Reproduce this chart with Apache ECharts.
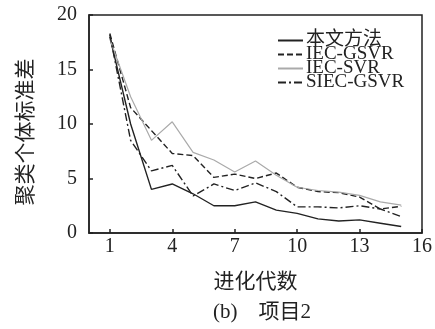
<!DOCTYPE html>
<html><head><meta charset="utf-8">
<script src="https://cdn.jsdelivr.net/npm/echarts@6/dist/echarts.min.js"></script>
<style>html,body{margin:0;padding:0;background:#fff}#c{width:435px;height:329px}</style>
</head><body><div id="c"></div>
<script>
const xCats = ['0','1','2','3','4','5','6','7','8','9','10','11','12','13','14','15','16'];
const tickLabels = ['1','4','7','10','13','16'];
const seriesNames = ['本文方法','IEC-GSVR','IEC-SVR','SIEC-GSVR'];
const ours      = [18.0, 10.0, 4.0, 4.5, 3.6, 2.5, 2.5, 2.85, 2.1, 1.8, 1.3, 1.1, 1.2, 0.9, 0.6];
const iecGsvr   = [18.3, 11.5, 9.4, 7.3, 7.1, 5.1, 5.4, 5.0, 5.5, 4.2, 3.8, 3.7, 3.3, 2.2, 2.45];
const iecSvr    = [17.8, 12.5, 8.5, 10.2, 7.4, 6.7, 5.6, 6.6, 5.3, 4.2, 3.9, 3.75, 3.45, 2.85, 2.55];
const siecGsvr  = [18.2, 8.5, 5.7, 6.2, 3.4, 4.5, 3.9, 4.6, 3.8, 2.4, 2.4, 2.3, 2.5, 2.2, 1.5];

const FONT = '"Liberation Serif","Noto Sans CJK SC",serif';
const pad = arr => ['-'].concat(arr).concat(['-']);
const chart = echarts.init(document.getElementById('c'));
const showIdx = (i) => tickLabels.indexOf(xCats[i]) >= 0;
function mk(name, data, color, type, w) {
  return { name, type: 'line', data: pad(data), symbol: 'none', smooth: false,
    lineStyle: { color, width: w, type }, itemStyle: { color } };
}
chart.setOption({
  animation: false,
  textStyle: { fontFamily: FONT },
  grid: { left: 89, right: 12, top: 15, bottom: 96, show: true, borderColor: '#222', borderWidth: 1.5 },
  title: { text: '(b)    项目2', left: 257, top: 297, textAlign: 'center',
    textStyle: { fontFamily: FONT, fontSize: 21, fontWeight: 'normal', color: '#222' } },
  legend: { orient: 'vertical', left: 272, top: 26, itemWidth: 25, itemHeight: 10, itemGap: -5,
    itemStyle: { opacity: 0 },
    textStyle: { fontFamily: FONT, fontSize: 19, color: '#222', padding: [0, 0, 0, -2] },
    data: seriesNames },
  xAxis: { type: 'category', data: xCats, boundaryGap: false,
    name: '进化代数', nameLocation: 'middle', nameGap: 39,
    nameTextStyle: { fontFamily: FONT, fontSize: 21, color: '#222' },
    axisLine: { lineStyle: { color: '#222', width: 1.5 } },
    axisTick: { inside: true, length: 4, interval: (i) => showIdx(i), lineStyle: { color: '#222', width: 1.5 } },
    axisLabel: { interval: (i) => showIdx(i), fontFamily: FONT, fontSize: 20, color: '#222', margin: 4 },
    splitLine: { show: false } },
  yAxis: { type: 'value', min: 0, max: 20, interval: 5,
    name: '聚类个体标准差', nameLocation: 'middle', nameGap: 52,
    nameTextStyle: { fontFamily: FONT, fontSize: 21, color: '#222', padding: [0, 16, 0, 0] },
    axisLine: { show: true, lineStyle: { color: '#222', width: 1.5 } },
    axisTick: { show: true, inside: true, length: 4, lineStyle: { color: '#222', width: 1.5 } },
    axisLabel: { fontFamily: FONT, fontSize: 20, color: '#222', margin: 12 },
    splitLine: { show: false } },
  series: [
    mk(seriesNames[0], ours, '#222', 'solid', 1.4),
    mk(seriesNames[1], iecGsvr, '#222', [6, 3], 1.4),
    mk(seriesNames[2], iecSvr, '#aaa', 'solid', 1.2),
    mk(seriesNames[3], siecGsvr, '#222', [8, 3, 2, 3], 1.4)
  ]
});
</script></body></html>
